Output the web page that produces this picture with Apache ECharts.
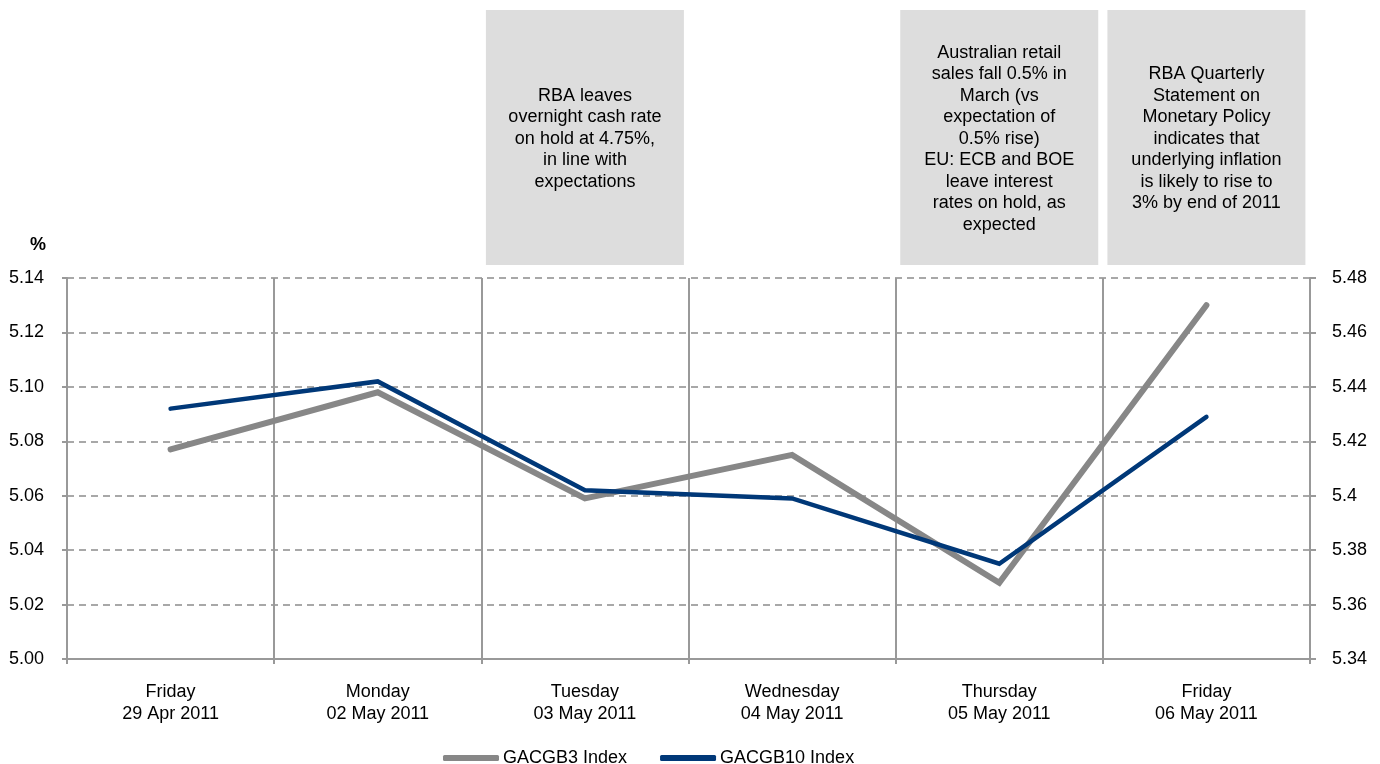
<!DOCTYPE html>
<html>
<head>
<meta charset="utf-8">
<script src="https://cdn.jsdelivr.net/npm/echarts@6/dist/echarts.min.js"></script>
<style>
  html, body { margin: 0; padding: 0; background: #ffffff; }
  #chart { width: 1380px; height: 764px; }
</style>
</head>
<body>
<div id="chart"></div>
<script>
// Trading days (category axis)
const days = [
  'Friday\n29 Apr 2011',
  'Monday\n02 May 2011',
  'Tuesday\n03 May 2011',
  'Wednesday\n04 May 2011',
  'Thursday\n05 May 2011',
  'Friday\n06 May 2011'
];

// 3-year government bond yield index, % (left axis)
const gacgb3 = [5.077, 5.098, 5.059, 5.075, 5.028, 5.130];

// 10-year government bond yield index, % (right axis)
const gacgb10 = [5.432, 5.442, 5.402, 5.399, 5.375, 5.429];

// Axis ranges
const leftAxisRange = [5.00, 5.14];
const rightAxisRange = [5.34, 5.48];
const axisStep = 0.02;

// Event notes shown above the day they refer to
const noteDays = [2, 4, 5];
const noteTexts = [
  'RBA leaves\novernight cash rate\non hold at 4.75%,\nin line with\nexpectations',
  'Australian retail\nsales fall 0.5% in\nMarch (vs\nexpectation of\n0.5% rise)\nEU: ECB and BOE\nleave interest\nrates on hold, as\nexpected',
  'RBA Quarterly\nStatement on\nMonetary Policy\nindicates that\nunderlying inflation\nis likely to rise to\n3% by end of 2011'
];

const FONT = '"Liberation Sans", Arial, Helvetica, sans-serif';
const AXIS_GREY = '#999999';
const GRID_GREY = '#8c8c8c';

const chart = echarts.init(document.getElementById('chart'), null, { renderer: 'canvas' });

const option = {
  backgroundColor: '#ffffff',
  animation: false,
  textStyle: { fontFamily: FONT, color: '#000000' },
  grid: { left: 67, right: 70, top: 278, bottom: 105, containLabel: false },
  legend: {
    top: 744,
    left: 438,
    icon: 'roundRect',
    itemWidth: 56,
    itemHeight: 6,
    itemGap: 33,
    textStyle: { fontFamily: FONT, fontSize: 18, color: '#000000', padding: [0, 0, 0, -1] },
    data: ['GACGB3 Index', 'GACGB10 Index']
  },
  xAxis: {
    type: 'category',
    data: days,
    boundaryGap: true,
    axisLine: { show: true, lineStyle: { color: AXIS_GREY, width: 2 } },
    axisTick: { show: true, length: 5, lineStyle: { color: AXIS_GREY, width: 2 } },
    axisLabel: {
      fontFamily: FONT, fontSize: 18, color: '#000000',
      margin: 22, lineHeight: 22, interval: 0
    },
    splitLine: { show: true, lineStyle: { color: AXIS_GREY, width: 2, type: 'solid' } }
  },
  yAxis: [
    {
      type: 'value',
      position: 'left',
      min: leftAxisRange[0],
      max: leftAxisRange[1],
      interval: axisStep,
      name: '%',
      nameLocation: 'end',
      nameGap: 24,
      nameTextStyle: {
        fontFamily: FONT, fontSize: 18, fontWeight: 'bold', color: '#000000',
        align: 'right', padding: [0, 21, 0, 0]
      },
      axisLine: { show: true, lineStyle: { color: AXIS_GREY, width: 2 } },
      axisTick: { show: true, length: 5, lineStyle: { color: AXIS_GREY, width: 2 } },
      axisLabel: {
        fontFamily: FONT, fontSize: 18, color: '#000000', margin: 23,
        formatter: v => v.toFixed(2)
      },
      splitLine: { show: true, lineStyle: { color: GRID_GREY, width: 1.5, type: [7, 5] } }
    },
    {
      type: 'value',
      position: 'right',
      min: rightAxisRange[0],
      max: rightAxisRange[1],
      interval: axisStep,
      axisLine: { show: true, lineStyle: { color: AXIS_GREY, width: 2 } },
      axisTick: { show: true, length: 6, lineStyle: { color: AXIS_GREY, width: 2 } },
      axisLabel: {
        fontFamily: FONT, fontSize: 18, color: '#000000', margin: 22,
        formatter: v => String(Number(v.toFixed(2)))
      },
      splitLine: { show: false }
    }
  ],
  series: [
    {
      name: 'GACGB3 Index',
      type: 'line',
      yAxisIndex: 0,
      data: gacgb3,
      symbol: 'none',
      color: '#878787',
      lineStyle: { color: '#878787', width: 6, cap: 'round', join: 'miter' },
      z: 3
    },
    {
      name: 'GACGB10 Index',
      type: 'line',
      yAxisIndex: 1,
      data: gacgb10,
      symbol: 'none',
      color: '#003878',
      lineStyle: { color: '#003878', width: 4.5, cap: 'round', join: 'miter' },
      z: 4
    }
  ]
};

chart.setOption(option);

// Note boxes sit above the plot, centred on their day's band
function buildNotes() {
  const boxWidth = 198;
  const boxTop = 10;
  const boxBottom = 265;
  const elements = [];
  noteDays.forEach((dayIdx, i) => {
    const cx = chart.convertToPixel({ xAxisIndex: 0 }, dayIdx);
    elements.push({
      type: 'rect',
      silent: true,
      shape: { x: cx - boxWidth / 2, y: boxTop, width: boxWidth, height: boxBottom - boxTop },
      style: { fill: '#dddddd' },
      z: 1
    });
    elements.push({
      type: 'text',
      silent: true,
      style: {
        x: cx,
        y: 139,
        text: noteTexts[i],
        align: 'center',
        verticalAlign: 'middle',
        fontFamily: FONT,
        fontSize: 18,
        lineHeight: 21.5,
        fill: '#000000'
      },
      z: 2
    });
  });
  chart.setOption({ graphic: { elements: elements } });
}
buildNotes();
</script>
</body>
</html>
